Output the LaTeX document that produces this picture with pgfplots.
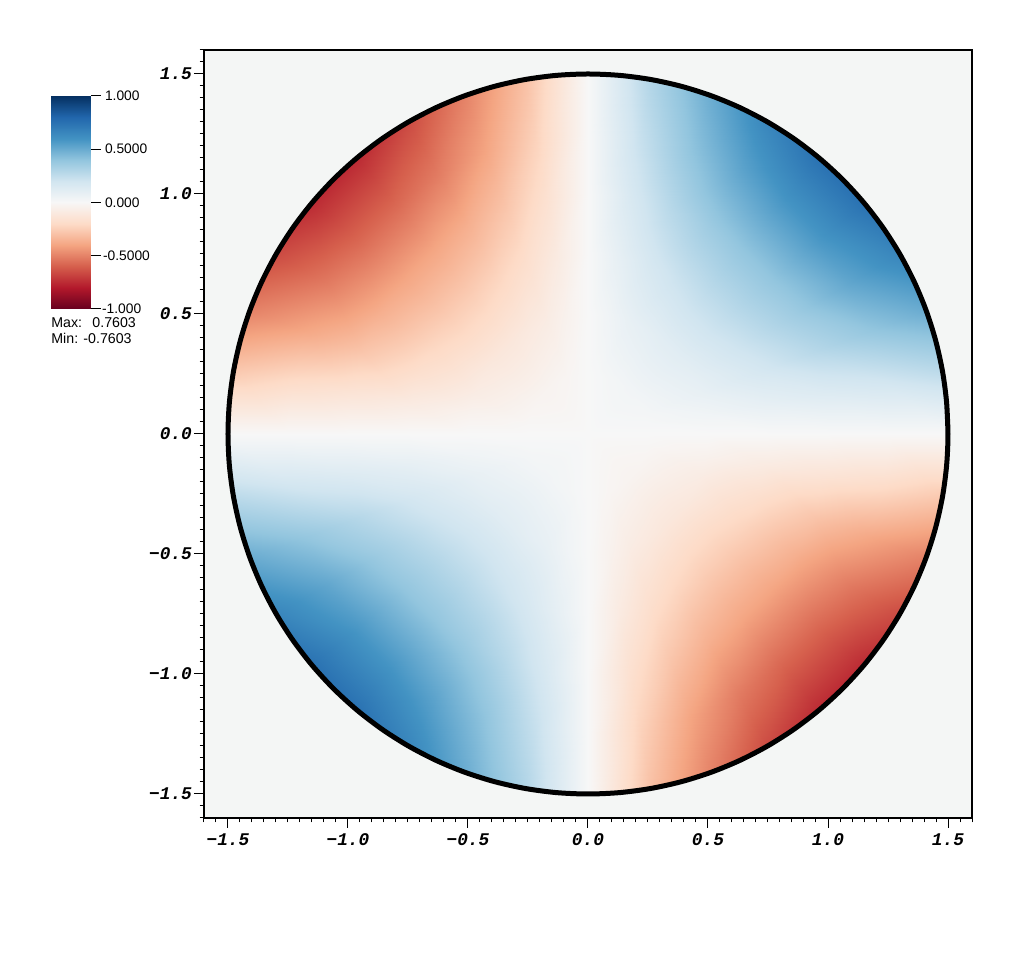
\documentclass[border=0pt]{standalone}
\usepackage{fontspec}
\setmainfont{Liberation Sans}
\setmonofont{Liberation Mono}
\usepackage{pgfplots}
\pgfplotsset{compat=1.18}
\definecolor{bgfield}{HTML}{F4F6F5}
\pgfplotsset{
  colormap={rdbu}{
    rgb255=(103,0,31) rgb255=(178,24,43) rgb255=(214,96,77) rgb255=(244,165,130)
    rgb255=(253,219,199) rgb255=(247,247,247) rgb255=(209,229,240) rgb255=(146,197,222)
    rgb255=(67,147,195) rgb255=(33,102,172) rgb255=(5,48,97)
  }
}
% 1 image px = 0.5pt
\begin{document}
\begin{tikzpicture}
\path[use as bounding box] (-102pt,-72pt) rectangle (410pt,409pt);
\begin{axis}[
  scale only axis,
  width=384pt, height=384pt,
  xmin=-1.6, xmax=1.6, ymin=-1.6, ymax=1.6,
  axis background/.style={fill=bgfield},
  axis line style={line width=0.6pt},
  tick align=outside,
  xtick pos=bottom, ytick pos=left,
  xtick={-1.5,-1,-0.5,0,0.5,1,1.5},
  ytick={-1.5,-1,-0.5,0,0.5,1,1.5},
  xticklabels={−1.5,−1.0,−0.5,0.0,0.5,1.0,1.5},
  yticklabels={−1.5,−1.0,−0.5,0.0,0.5,1.0,1.5},
  minor xtick={-1.6,-1.55,...,1.6},
  minor ytick={-1.6,-1.55,...,1.6},
  major tick length=5pt,
  minor tick length=2.2pt,
  every tick/.style={black,line width=0.5pt},
  tick label style={font=\fontsize{8.9}{10}\ttfamily\bfseries\itshape},
  xticklabel style={yshift=0.5pt},
  yticklabel style={xshift=2.5pt},
  point meta min=-1, point meta max=1,
  colormap name=rdbu,
]
\addplot[surf, shader=interp, data cs=polar, mesh/rows=37, mesh/cols=7, point meta=\thisrow{u}]
  table[x=th, y=r, row sep=crcr] {
th r u\\
0 0 0\\ 0 .25 0\\ 0 .5 0\\ 0 .75 0\\ 0 1 0\\ 0 1.25 0\\ 0 1.5 0\\
10 0 0\\ 10 .25 .01\\ 10 .5 .04\\ 10 .75 .09\\ 10 1 .14\\ 10 1.25 .19\\ 10 1.5 .27\\
20 0 0\\ 20 .25 .02\\ 20 .5 .08\\ 20 .75 .17\\ 20 1 .28\\ 20 1.25 .39\\ 20 1.5 .50\\
30 0 0\\ 30 .25 .025\\ 30 .5 .10\\ 30 .75 .22\\ 30 1 .36\\ 30 1.25 .52\\ 30 1.5 .66\\
40 0 0\\ 40 .25 .03\\ 40 .5 .115\\ 40 .75 .25\\ 40 1 .395\\ 40 1.25 .58\\ 40 1.5 .75\\
50 0 0\\ 50 .25 .03\\ 50 .5 .115\\ 50 .75 .25\\ 50 1 .395\\ 50 1.25 .58\\ 50 1.5 .75\\
60 0 0\\ 60 .25 .025\\ 60 .5 .10\\ 60 .75 .22\\ 60 1 .36\\ 60 1.25 .52\\ 60 1.5 .66\\
70 0 0\\ 70 .25 .02\\ 70 .5 .08\\ 70 .75 .17\\ 70 1 .28\\ 70 1.25 .40\\ 70 1.5 .50\\
80 0 0\\ 80 .25 .01\\ 80 .5 .04\\ 80 .75 .09\\ 80 1 .16\\ 80 1.25 .23\\ 80 1.5 .30\\
90 0 0\\ 90 .25 0\\ 90 .5 0\\ 90 .75 0\\ 90 1 0\\ 90 1.25 0\\ 90 1.5 0\\
100 0 0\\ 100 .25 -.01\\ 100 .5 -.04\\ 100 .75 -.09\\ 100 1 -.16\\ 100 1.25 -.23\\ 100 1.5 -.30\\
110 0 0\\ 110 .25 -.02\\ 110 .5 -.08\\ 110 .75 -.17\\ 110 1 -.28\\ 110 1.25 -.40\\ 110 1.5 -.50\\
120 0 0\\ 120 .25 -.025\\ 120 .5 -.10\\ 120 .75 -.22\\ 120 1 -.36\\ 120 1.25 -.52\\ 120 1.5 -.66\\
130 0 0\\ 130 .25 -.03\\ 130 .5 -.115\\ 130 .75 -.25\\ 130 1 -.395\\ 130 1.25 -.58\\ 130 1.5 -.75\\
140 0 0\\ 140 .25 -.03\\ 140 .5 -.115\\ 140 .75 -.25\\ 140 1 -.395\\ 140 1.25 -.58\\ 140 1.5 -.75\\
150 0 0\\ 150 .25 -.025\\ 150 .5 -.10\\ 150 .75 -.22\\ 150 1 -.36\\ 150 1.25 -.52\\ 150 1.5 -.66\\
160 0 0\\ 160 .25 -.02\\ 160 .5 -.08\\ 160 .75 -.17\\ 160 1 -.28\\ 160 1.25 -.39\\ 160 1.5 -.50\\
170 0 0\\ 170 .25 -.01\\ 170 .5 -.04\\ 170 .75 -.09\\ 170 1 -.14\\ 170 1.25 -.19\\ 170 1.5 -.27\\
180 0 0\\ 180 .25 0\\ 180 .5 0\\ 180 .75 0\\ 180 1 0\\ 180 1.25 0\\ 180 1.5 0\\
190 0 0\\ 190 .25 .01\\ 190 .5 .04\\ 190 .75 .09\\ 190 1 .14\\ 190 1.25 .19\\ 190 1.5 .27\\
200 0 0\\ 200 .25 .02\\ 200 .5 .08\\ 200 .75 .17\\ 200 1 .28\\ 200 1.25 .39\\ 200 1.5 .50\\
210 0 0\\ 210 .25 .025\\ 210 .5 .10\\ 210 .75 .22\\ 210 1 .36\\ 210 1.25 .52\\ 210 1.5 .66\\
220 0 0\\ 220 .25 .03\\ 220 .5 .115\\ 220 .75 .25\\ 220 1 .395\\ 220 1.25 .58\\ 220 1.5 .75\\
230 0 0\\ 230 .25 .03\\ 230 .5 .115\\ 230 .75 .25\\ 230 1 .395\\ 230 1.25 .58\\ 230 1.5 .75\\
240 0 0\\ 240 .25 .025\\ 240 .5 .10\\ 240 .75 .22\\ 240 1 .36\\ 240 1.25 .52\\ 240 1.5 .66\\
250 0 0\\ 250 .25 .02\\ 250 .5 .08\\ 250 .75 .17\\ 250 1 .28\\ 250 1.25 .40\\ 250 1.5 .50\\
260 0 0\\ 260 .25 .01\\ 260 .5 .04\\ 260 .75 .09\\ 260 1 .16\\ 260 1.25 .23\\ 260 1.5 .30\\
270 0 0\\ 270 .25 0\\ 270 .5 0\\ 270 .75 0\\ 270 1 0\\ 270 1.25 0\\ 270 1.5 0\\
280 0 0\\ 280 .25 -.01\\ 280 .5 -.04\\ 280 .75 -.09\\ 280 1 -.16\\ 280 1.25 -.23\\ 280 1.5 -.30\\
290 0 0\\ 290 .25 -.02\\ 290 .5 -.08\\ 290 .75 -.17\\ 290 1 -.28\\ 290 1.25 -.40\\ 290 1.5 -.50\\
300 0 0\\ 300 .25 -.025\\ 300 .5 -.10\\ 300 .75 -.22\\ 300 1 -.36\\ 300 1.25 -.52\\ 300 1.5 -.66\\
310 0 0\\ 310 .25 -.03\\ 310 .5 -.115\\ 310 .75 -.25\\ 310 1 -.395\\ 310 1.25 -.58\\ 310 1.5 -.75\\
320 0 0\\ 320 .25 -.03\\ 320 .5 -.115\\ 320 .75 -.25\\ 320 1 -.395\\ 320 1.25 -.58\\ 320 1.5 -.75\\
330 0 0\\ 330 .25 -.025\\ 330 .5 -.10\\ 330 .75 -.22\\ 330 1 -.36\\ 330 1.25 -.52\\ 330 1.5 -.66\\
340 0 0\\ 340 .25 -.02\\ 340 .5 -.08\\ 340 .75 -.17\\ 340 1 -.28\\ 340 1.25 -.39\\ 340 1.5 -.50\\
350 0 0\\ 350 .25 -.01\\ 350 .5 -.04\\ 350 .75 -.09\\ 350 1 -.14\\ 350 1.25 -.19\\ 350 1.5 -.27\\
360 0 0\\ 360 .25 0\\ 360 .5 0\\ 360 .75 0\\ 360 1 0\\ 360 1.25 0\\ 360 1.5 0\\
};
% boundary of the disc
\addplot[black, line width=2.5pt, smooth, line join=round, data cs=polar, mark=none] table[row sep=crcr] {
0 1.5\\ 5 1.5\\ 10 1.5\\ 15 1.5\\ 20 1.5\\ 25 1.5\\ 30 1.5\\ 35 1.5\\ 40 1.5\\ 45 1.5\\ 50 1.5\\ 55 1.5\\ 60 1.5\\
65 1.5\\ 70 1.5\\ 75 1.5\\ 80 1.5\\ 85 1.5\\ 90 1.5\\ 95 1.5\\ 100 1.5\\ 105 1.5\\ 110 1.5\\ 115 1.5\\ 120 1.5\\
125 1.5\\ 130 1.5\\ 135 1.5\\ 140 1.5\\ 145 1.5\\ 150 1.5\\ 155 1.5\\ 160 1.5\\ 165 1.5\\ 170 1.5\\ 175 1.5\\ 180 1.5\\
185 1.5\\ 190 1.5\\ 195 1.5\\ 200 1.5\\ 205 1.5\\ 210 1.5\\ 215 1.5\\ 220 1.5\\ 225 1.5\\ 230 1.5\\ 235 1.5\\ 240 1.5\\
245 1.5\\ 250 1.5\\ 255 1.5\\ 260 1.5\\ 265 1.5\\ 270 1.5\\ 275 1.5\\ 280 1.5\\ 285 1.5\\ 290 1.5\\ 295 1.5\\ 300 1.5\\
305 1.5\\ 310 1.5\\ 315 1.5\\ 320 1.5\\ 325 1.5\\ 330 1.5\\ 335 1.5\\ 340 1.5\\ 345 1.5\\ 350 1.5\\ 355 1.5\\ 360 1.5\\ 5 1.5\\
};
\end{axis}
% colour scale
\begin{axis}[
  at={(-76.5pt,361pt)}, anchor=north west,
  scale only axis,
  width=20pt, height=106.5pt,
  xmin=0, xmax=1, ymin=-1, ymax=1,
  axis line style={draw=none},
  xtick=\empty,
  ytick={-1,-0.5,0,0.5,1},
  yticklabels={\hspace*{-1.5pt}-1.000,\hspace*{-1pt}-0.5000,0.000,0.5000,1.000},
  ytick pos=right, yticklabel pos=right,
  tick align=outside,
  major tick length=5pt,
  every tick/.style={black,line width=0.5pt},
  tick label style={font=\fontsize{6.9}{8}\selectfont},
  yticklabel style={anchor=west,xshift=-1.5pt},
  point meta min=-1, point meta max=1,
  colormap name=rdbu,
]
\addplot[surf, shader=interp, mesh/rows=11, mesh/cols=2, point meta=\thisrow{u}]
  table[x=a, y=u, row sep=crcr] {
a u\\
0 -1\\ 1 -1\\ 0 -.8\\ 1 -.8\\ 0 -.6\\ 1 -.6\\ 0 -.4\\ 1 -.4\\ 0 -.2\\ 1 -.2\\ 0 0\\ 1 0\\
0 .2\\ 1 .2\\ 0 .4\\ 1 .4\\ 0 .6\\ 1 .6\\ 0 .8\\ 1 .8\\ 0 1\\ 1 1\\
};
\end{axis}
\node[anchor=west,inner sep=0pt,font=\fontsize{7.1}{8}\selectfont] at (-76.5pt,247.5pt) {Max:\ \ \,0.7603};
\node[anchor=west,inner sep=0pt,font=\fontsize{7.1}{8}\selectfont] at (-76.5pt,240pt) {Min: -0.7603};
\end{tikzpicture}
\end{document}
